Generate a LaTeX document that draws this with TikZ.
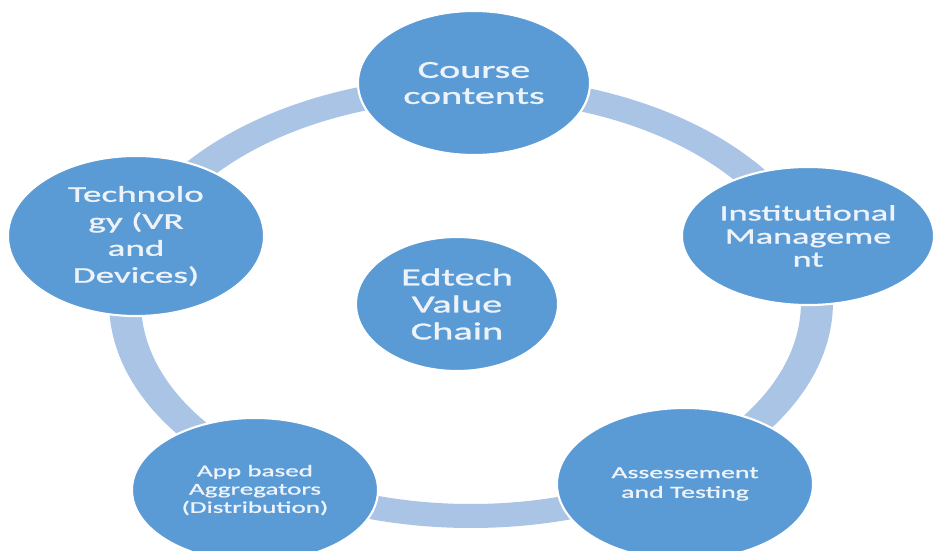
\documentclass[tikz,border=0pt]{standalone}
\usepackage{fontspec}
\setmainfont{Carlito}[FakeStretch=1.65, FakeBold=1.2]
\usetikzlibrary{shapes.geometric}
\definecolor{nodeblue}{RGB}{91,155,213}
\definecolor{ringblue}{RGB}{170,196,229}
\definecolor{textwhite}{RGB}{238,243,250}

\begin{document}
\begin{tikzpicture}[x=0.025cm, y=-0.025cm,
	bubble/.style 2 args={ellipse, fill=nodeblue, draw=white, line width=1.5pt,
		text=textwhite, align=center, inner sep=0pt,
		minimum width=#1*0.05cm, minimum height=#2*0.05cm}]

		\useasboundingbox (0,0) rectangle (936,551);
		\clip (0,0) rectangle (936,551);

		% the ring behind the bubbles
		\coordinate (ring) at (471,302);
		\fill[ringblue, even odd rule] (ring) ellipse [x radius=362, y radius=226]
			(ring) ellipse [x radius=330, y radius=202];

		\foreach \n / \x / \y / \rx / \ry / \fs / \ls / \t in {
			course/474/83/116/72/17.3/18.5/{Course\\contents},
			inst/808/236/126/69/15.6/16.4/{Institutional\\Manageme\\nt},
			assess/685/484/128/76/12/14/{Assessement\\and Testing},
			app/255/490/123/72/11.7/13/{App based\\Aggregators\\(Distribution)},
			tech/136/236/128/80/16/19.2/{Technolo\\gy (VR\\and\\Devices)}} {
		\node[bubble={\rx}{\ry}, font=\fontsize{\fs}{\ls}\selectfont] (\n) at (\x, \y) {\t};
		}

		\node[bubble={101}{67}, font=\fontsize{17.4}{19.2}\selectfont] (hub) at (457,304) {Edtech\\Value\\Chain};

	\end{tikzpicture}
\end{document}
